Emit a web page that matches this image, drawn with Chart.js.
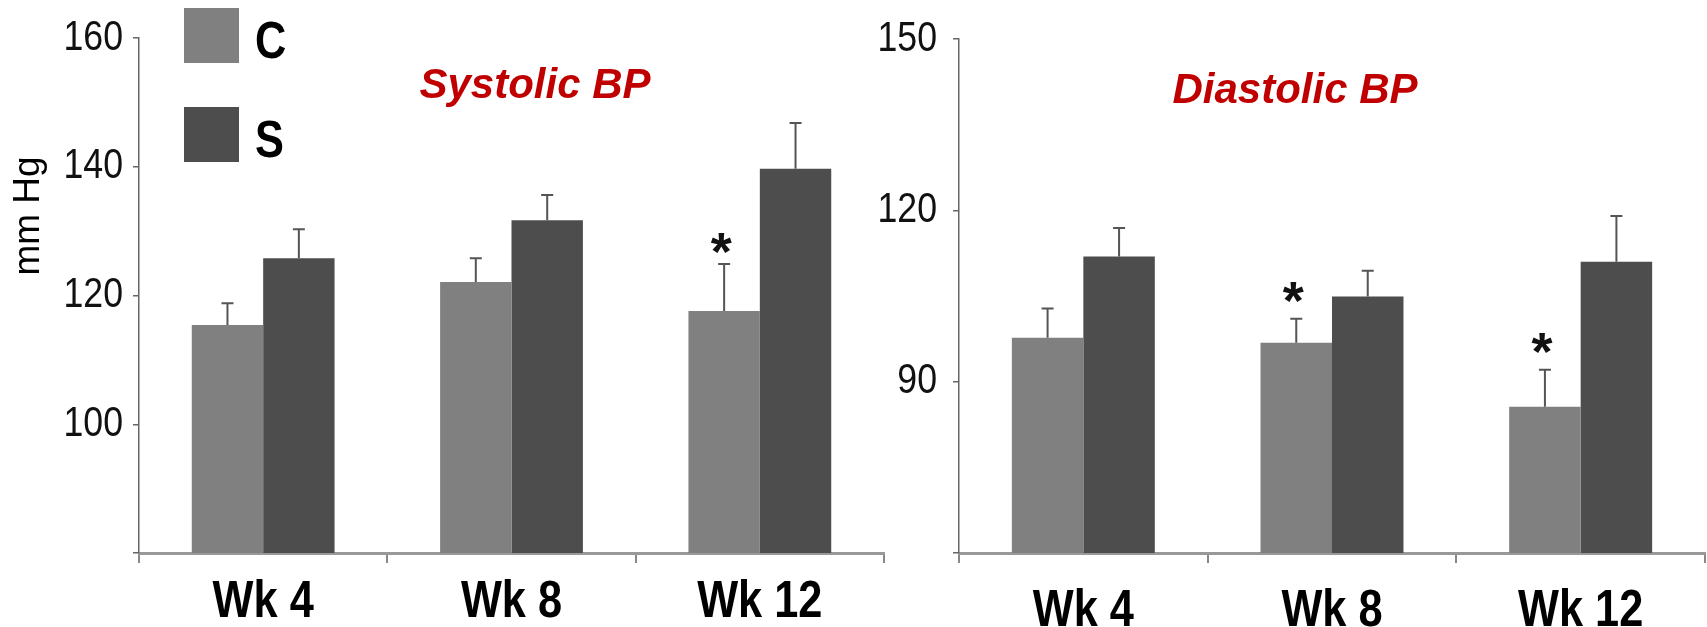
<!DOCTYPE html>
<html>
<head>
<meta charset="utf-8">
<script src="https://cdn.jsdelivr.net/npm/chart.js@4/dist/chart.umd.min.js"></script>
<style>
  body { margin: 0; background: #fff; }
  #wrap { position: relative; width: 1707px; height: 627px; overflow: hidden; }
  canvas { position: absolute; top: 0; }
</style>
</head>
<body>
<div id="wrap">
  <canvas id="sys" width="900" height="627" style="left:0"></canvas>
  <canvas id="dia" width="857" height="627" style="left:850px"></canvas>
</div>
<script>
const weeks = ["Wk 4", "Wk 8", "Wk 12"];
const groups = ["C", "S"];

const sysC = [115.4, 122.1, 117.6];
const sysCErr = [3.4, 3.7, 7.3];
const sysS = [125.8, 131.7, 139.7];
const sysSErr = [4.5, 3.9, 7.1];
const sysStars = [false, false, true];
const sysTicks = [80, 100, 120, 140, 160];

const diaC = [97.7, 96.8, 85.6];
const diaCErr = [5.1, 4.2, 6.5];
const diaS = [111.9, 104.9, 111.0];
const diaSErr = [5.0, 4.5, 8.0];
const diaStars = [false, true, true];
const diaTicks = [60, 90, 120, 150];

const colorC = "#808080";
const colorS = "#4d4d4d";
const SANS = '"Liberation Sans", Arial, sans-serif';
const SQUEEZE = 0.85; // the original type is a narrow face

// text squeezed horizontally around its anchor point
const narrowText = (ctx, text, x, y, font, align, baseline) => {
  ctx.save();
  ctx.font = font;
  ctx.textAlign = align;
  ctx.textBaseline = baseline;
  ctx.translate(x, y);
  ctx.scale(SQUEEZE, 1);
  ctx.fillText(text, 0, 0);
  ctx.restore();
};

// error bars (upward only) and significance stars
const errorBars = {
  id: "errorBars",
  afterDatasetsDraw(chart, args, opts) {
    const ctx = chart.ctx;
    const y = chart.scales.y;
    ctx.save();
    chart.data.datasets.forEach((ds, i) => {
      const meta = chart.getDatasetMeta(i);
      meta.data.forEach((bar, j) => {
        const top = y.getPixelForValue(ds.data[j] + ds.errors[j]);
        ctx.strokeStyle = "#555";
        ctx.lineWidth = 2;
        ctx.beginPath();
        ctx.moveTo(bar.x, bar.y);
        ctx.lineTo(bar.x, top);
        ctx.moveTo(bar.x - 6, top);
        ctx.lineTo(bar.x + 6, top);
        ctx.stroke();
        if (ds.stars && ds.stars[j]) {
          ctx.fillStyle = "#111";
          ctx.font = "bold 54px " + SANS;
          ctx.textAlign = "center";
          ctx.textBaseline = "alphabetic";
          ctx.fillText("*", bar.x - 3, top - opts.starGap + 28);
        }
      });
    });
    ctx.restore();
  },
};

// tick labels drawn narrow at the positions the scales give
const tickLabels = {
  id: "tickLabels",
  afterDraw(chart, args, opts) {
    const ctx = chart.ctx;
    const x = chart.scales.x;
    const y = chart.scales.y;
    ctx.fillStyle = "#000";
    chart.data.labels.forEach((lab, i) => {
      narrowText(ctx, lab, x.getPixelForTick(i), opts.labelY, "bold 51px " + SANS, "center", "middle");
    });
    ctx.fillStyle = "#111";
    opts.ticks.slice(1).forEach((v) => {
      narrowText(ctx, String(v), y.right - opts.tickGap, y.getPixelForValue(v), "42px " + SANS, "right", "middle");
    });
  },
};

// free text: titles, legend, axis title
const decorations = {
  id: "decorations",
  afterDraw(chart, args, opts) {
    const ctx = chart.ctx;
    ctx.save();
    ctx.fillStyle = "#c00000";
    ctx.font = "italic bold 42px " + SANS;
    ctx.textAlign = "center";
    ctx.textBaseline = "alphabetic";
    ctx.fillText(opts.title, opts.titleX, opts.titleY);
    if (opts.legend) {
      const fills = [colorC, colorS];
      const tops = [8, 107];
      groups.forEach((g, i) => {
        ctx.fillStyle = fills[i];
        ctx.fillRect(184, tops[i], 55, 55);
        ctx.fillStyle = "#000";
        narrowText(ctx, g, 255, tops[i] + 50, "bold 51px " + SANS, "left", "alphabetic");
      });
    }
    if (opts.yTitle) {
      ctx.translate(29, 216);
      ctx.rotate(-Math.PI / 2);
      ctx.fillStyle = "#000";
      ctx.font = "37px " + SANS;
      ctx.textAlign = "center";
      ctx.textBaseline = "middle";
      ctx.fillText(opts.yTitle, 0, 0);
    }
    ctx.restore();
  },
};

const makeChart = (id, cfg) => {
  const ctx = document.getElementById(id).getContext("2d");
  return new Chart(ctx, {
    type: "bar",
    data: {
      labels: weeks,
      datasets: [
        { label: "C", data: cfg.c, errors: cfg.cErr, stars: cfg.stars, backgroundColor: colorC },
        { label: "S", data: cfg.s, errors: cfg.sErr, backgroundColor: colorS },
      ],
    },
    plugins: [errorBars, tickLabels, decorations],
    options: {
      responsive: false,
      animation: false,
      devicePixelRatio: 1,
      layout: { padding: { left: 0, right: cfg.padRight, top: cfg.top, bottom: 0 } },
      datasets: { bar: { barPercentage: 1.0, categoryPercentage: 0.575 } },
      plugins: {
        legend: { display: false },
        tooltip: { enabled: false },
        errorBars: { starGap: cfg.starGap },
        tickLabels: { ticks: cfg.ticks, labelY: cfg.labelY, tickGap: cfg.tickGap },
        decorations: cfg.deco,
      },
      scales: {
        x: {
          afterFit: (scale) => { scale.height = 627 - 553; },
          grid: { offset: true, drawOnChartArea: false, tickLength: 10, color: "#888", lineWidth: 2 },
          border: { color: "#999", width: 3 },
          ticks: { display: false },
        },
        y: {
          min: cfg.ticks[0],
          max: cfg.ticks[cfg.ticks.length - 1],
          afterFit: (scale) => { scale.width = cfg.axisLeft; },
          afterBuildTicks: (scale) => { scale.ticks = cfg.ticks.map((v) => ({ value: v })); },
          grid: { drawOnChartArea: false, tickLength: 6, color: "#666", lineWidth: 1.5 },
          border: { color: "#666", width: 1.5 },
          ticks: { display: false },
        },
      },
    },
  });
};

makeChart("sys", {
  c: sysC, cErr: sysCErr, s: sysS, sErr: sysSErr, stars: sysStars, ticks: sysTicks,
  axisLeft: 139, padRight: 16, top: 38, labelY: 603, tickGap: 16, starGap: 22,
  deco: { title: "Systolic BP", titleX: 535, titleY: 98, legend: true, yTitle: "mm Hg" },
});

makeChart("dia", {
  c: diaC, cErr: diaCErr, s: diaS, sErr: diaSErr, stars: diaStars, ticks: diaTicks,
  axisLeft: 109, padRight: 2, top: 39, labelY: 612, tickGap: 22, starGap: 28,
  deco: { title: "Diastolic BP", titleX: 445, titleY: 103, legend: false, yTitle: null },
});
</script>
</body>
</html>
